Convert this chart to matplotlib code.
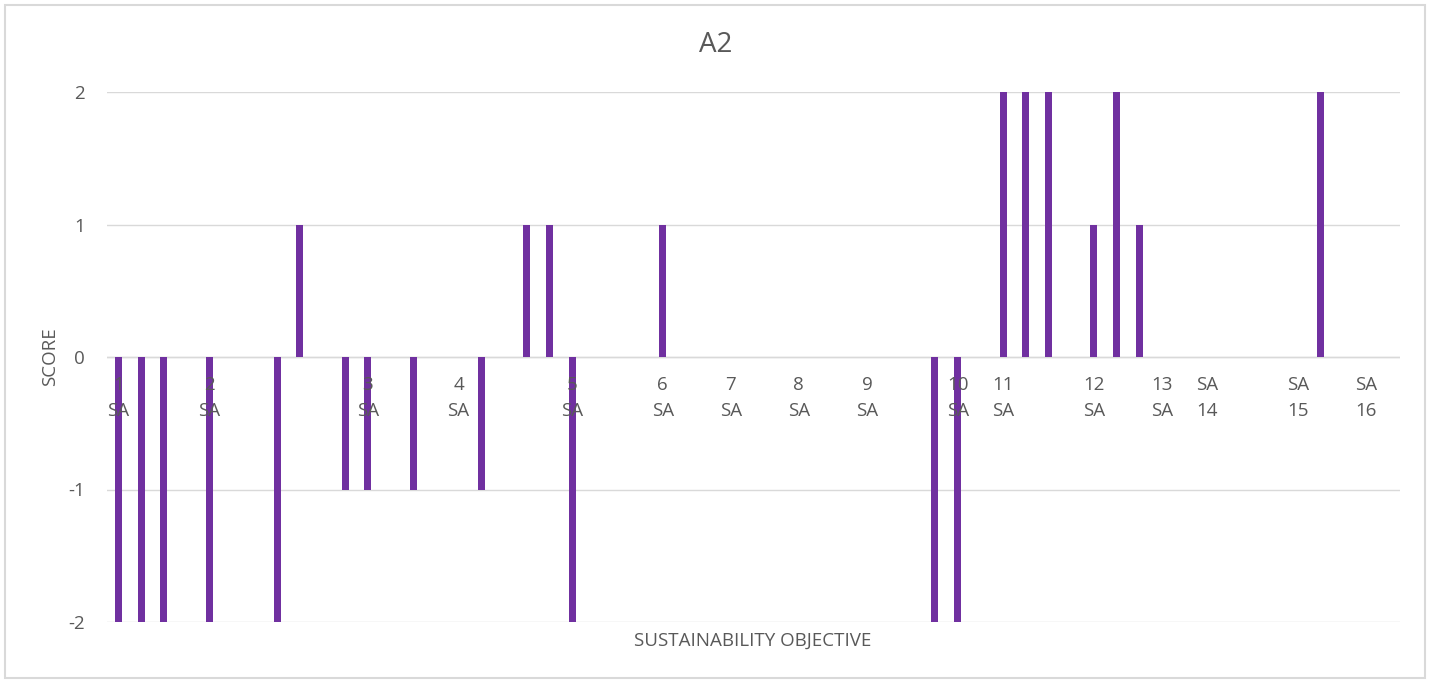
import matplotlib.pyplot as plt
from matplotlib.patches import Rectangle

# 57 sub-objective slots, only some carry a label
etiquetas = ["1\nSA", "", "", "", "2\nSA", "", "", "", "", "", "", "3\nSA", "", "", "",
             "4\nSA", "", "", "", "", "5\nSA", "", "", "", "6\nSA", "", "", "7\nSA", "", "",
             "8\nSA", "", "", "9\nSA", "", "", "", "10\nSA", "", "11\nSA", "", "", "",
             "12\nSA", "", "", "13\nSA", "", "SA\n14", "", "", "", "SA\n15", "", "",
             "SA\n16", ""]
puntuaciones = [-2, -2, -2, 0, -2, 0, 0, -2, 1, 0, -1, -1, 0, -1, 0,
                0, -1, 0, 1, 1, -2, 0, 0, 0, 1, 0, 0, 0, 0, 0,
                0, 0, 0, 0, 0, 0, -2, -2, 0, 2, 2, 2, 0,
                1, 2, 1, 0, 0, 0, 0, 0, 0, 0, 2, 0,
                0, 0]
y_ticks = [-2, -1, 0, 1, 2]

gris = "#595959"
plt.rcParams["font.family"] = ["Open Sans", "DejaVu Sans"]
fs = 13.5

W, H = 1434, 682
fig = plt.figure(figsize=(W / 100, H / 100), dpi=100)
ax = fig.add_axes([107 / W, (H - 622) / H, (1400 - 107) / W, (622 - 92) / H])

x = list(range(len(puntuaciones)))
ax.bar(x, puntuaciones, width=0.31, color="#7030A0", zorder=3)

ax.set_xlim(-0.5, len(puntuaciones) - 0.5)
ax.set_ylim(-2, 2)
ax.set_yticks(y_ticks)
ax.set_yticklabels([str(v) for v in y_ticks], color=gris, fontsize=fs)
ax.tick_params(axis="y", length=0, pad=16)
ax.set_xticks([])
ax.grid(axis="y", color="#D9D9D9", linewidth=1, zorder=0)
for s in ax.spines.values():
    s.set_visible(False)
ax.axhline(0, color="#D9D9D9", linewidth=1, zorder=2)

# category labels sit just under the zero line, as in Excel
for i, et in enumerate(etiquetas):
    if not et:
        continue
    l1, l2 = et.split("\n")
    ax.annotate(l1, (i, 0), xytext=(0, -28 * 0.72), textcoords="offset points",
                ha="center", va="center", color=gris, fontsize=fs, zorder=4)
    ax.annotate(l2, (i, 0), xytext=(0, -54 * 0.72), textcoords="offset points",
                ha="center", va="center", color=gris, fontsize=fs, zorder=4)

fig.text(716 / W, 1 - 45 / H, "A2", ha="center", va="center", color=gris, fontsize=20)
fig.text(753 / W, 1 - 641 / H, "SUSTAINABILITY OBJECTIVE", ha="center", va="center",
         color=gris, fontsize=fs)
fig.text(50 / W, 1 - 357 / H, "SCORE", ha="center", va="center", rotation=90,
         color=gris, fontsize=fs)

# marco del grafico
fig.patches.append(Rectangle((5 / W, 4 / H), 1420 / W, 673 / H, transform=fig.transFigure,
                             fill=False, edgecolor="#D9D9D9", linewidth=1.5))

fig.savefig("out.png", dpi=100)
